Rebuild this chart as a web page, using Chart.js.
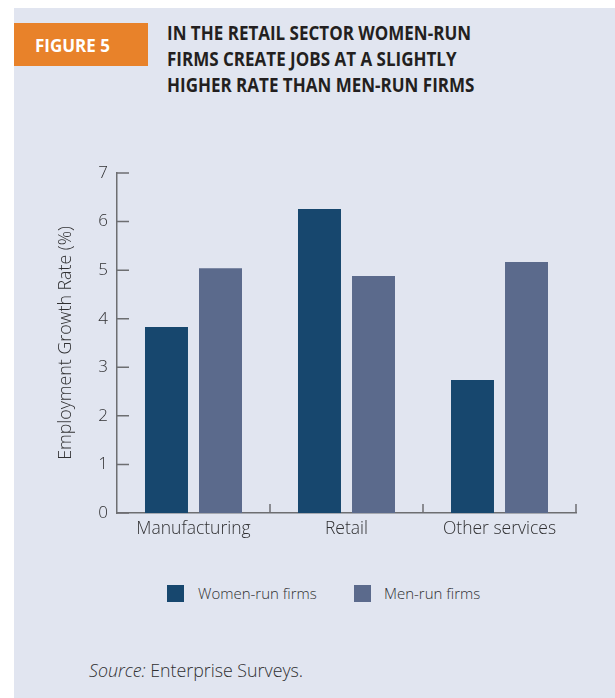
<!DOCTYPE html>
<html>
<head>
<meta charset="utf-8">
<script src="https://cdn.jsdelivr.net/npm/chart.js@4/dist/chart.umd.min.js"></script>
<style>
  html, body { margin: 0; padding: 0; background: #ffffff; }
  body { width: 615px; height: 698px; position: relative; overflow: hidden; font-family: "Open Sans", sans-serif; }
  #panel { position: absolute; left: 14px; top: 8px; width: 601px; height: 690px; background: #e1e5f0; }
  #fig { position: absolute; left: 14px; top: 23px; width: 134px; height: 43px; background: #e8822a; }
  #figText { position: absolute; left: 35px; top: 36px; line-height: 20px; font-size: 17px; font-weight: 700; color: #ffffff; white-space: nowrap; }
  #title { position: absolute; left: 167px; top: 20px; font-size: 20px; line-height: 26px; font-weight: 700; color: #231f20; white-space: nowrap; transform-origin: 0 0; transform: scaleX(0.85); }
  #chartBox { position: absolute; left: 14px; top: 150px; width: 601px; height: 395px; }
  #legend { position: absolute; top: 585px; left: 0; width: 615px; height: 17px; font-size: 15px; font-weight: 300; color: #303032; }
  .sw { position: absolute; top: 0; width: 17px; height: 17px; }
  .lt { position: absolute; top: -2px; line-height: 20px; white-space: nowrap; }
  #source { position: absolute; left: 89px; top: 659px; line-height: 22px; font-size: 17.8px; font-weight: 300; color: #303032; white-space: nowrap; }
</style>
</head>
<body>
<div id="panel"></div>
<div id="fig"></div>
<div id="figText">FIGURE 5</div>
<div id="title">IN THE RETAIL SECTOR WOMEN-RUN<br>FIRMS CREATE JOBS AT A SLIGHTLY<br>HIGHER RATE THAN MEN-RUN FIRMS</div>
<div id="chartBox"><canvas id="chart"></canvas></div>
<div id="legend"></div>
<div id="source"><i>Source:</i> Enterprise Surveys.</div>
<script>
// Sectors and employment growth rates (%)
const categories = ["Manufacturing", "Retail", "Other services"];
const womenRun = [3.83, 6.26, 2.74];
const menRun = [5.04, 4.88, 5.17];
const seriesNames = ["Women-run firms", "Men-run firms"];
const yTicks = [0, 1, 2, 3, 4, 5, 6, 7];

const WOMEN_COLOR = "#17476e";
const MEN_COLOR = "#5b6a8c";
const AXIS_COLOR = "#6d6e71";
const TEXT_COLOR = "#303032";
const FONT = "'Open Sans', sans-serif";

// Short tick marks pointing into the plot: y at each value, x at category boundaries
const innerTicks = {
  id: "innerTicks",
  afterDraw(chart) {
    const { ctx, chartArea, scales: { x, y } } = chart;
    ctx.save();
    ctx.strokeStyle = AXIS_COLOR;
    ctx.lineWidth = 1.5;
    ctx.beginPath();
    y.ticks.forEach((t, i) => {
      const py = y.getPixelForTick(i);
      ctx.moveTo(chartArea.left, py);
      ctx.lineTo(chartArea.left + 12, py);
    });
    const n = x.ticks.length;
    const w = (x.right - x.left) / n;
    for (let k = 1; k <= n; k++) {
      const px = x.left + k * w;
      ctx.moveTo(px, chartArea.bottom);
      ctx.lineTo(px, chartArea.bottom - 9);
    }
    ctx.stroke();
    ctx.restore();
  }
};

new Chart(document.getElementById("chart"), {
  type: "bar",
  data: {
    labels: categories,
    datasets: [
      { label: seriesNames[0], data: womenRun, backgroundColor: WOMEN_COLOR },
      { label: seriesNames[1], data: menRun, backgroundColor: MEN_COLOR }
    ]
  },
  plugins: [innerTicks],
  options: {
    responsive: true,
    maintainAspectRatio: false,
    animation: false,
    devicePixelRatio: 1,
    categoryPercentage: 0.706,
    barPercentage: 0.796,
    layout: { padding: { top: 23, right: 39, left: 0, bottom: 0 } },
    plugins: { legend: { display: false }, tooltip: { enabled: false } },
    scales: {
      x: {
        offset: true,
        grid: { display: false, drawTicks: false },
        border: { display: true, color: AXIS_COLOR, width: 1.5 },
        ticks: { color: TEXT_COLOR, font: { family: FONT, size: 17.5, weight: 300 }, padding: 6 },
        afterFit(s) { s.height = 32; }
      },
      y: {
        min: 0,
        max: 7,
        afterBuildTicks(s) { s.ticks = yTicks.map(v => ({ value: v })); },
        grid: { display: false, drawTicks: false },
        border: { display: true, color: AXIS_COLOR, width: 1.5 },
        ticks: { color: TEXT_COLOR, font: { family: FONT, size: 17, weight: 300 }, padding: 9 },
        title: {
          display: true,
          text: "Employment Growth Rate (%)",
          color: TEXT_COLOR,
          font: { family: FONT, size: 17.8, weight: 300 },
          padding: { top: 41, bottom: 0 }
        },
        afterFit(s) { s.width = 103; }
      }
    }
  }
});

// Legend built from the series names and colours
const legend = document.getElementById("legend");
const legendItems = [
  { name: seriesNames[0], color: WOMEN_COLOR, box: 167, text: 198 },
  { name: seriesNames[1], color: MEN_COLOR, box: 354, text: 384 }
];
legendItems.forEach(it => {
  const sw = document.createElement("div");
  sw.className = "sw";
  sw.style.left = it.box + "px";
  sw.style.background = it.color;
  legend.appendChild(sw);
  const t = document.createElement("div");
  t.className = "lt";
  t.style.left = it.text + "px";
  t.textContent = it.name;
  legend.appendChild(t);
});
</script>
</body>
</html>
